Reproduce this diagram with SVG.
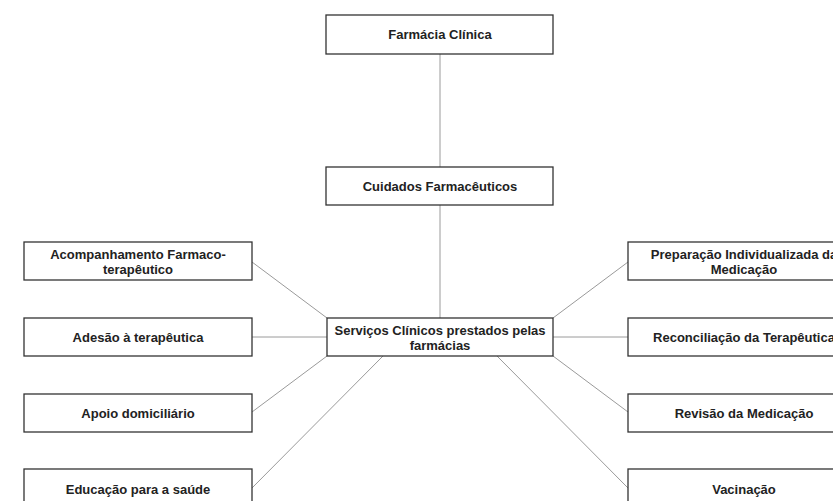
<svg xmlns="http://www.w3.org/2000/svg" width="833" height="501" viewBox="0 0 833 501">
<style>
.box{fill:#fff;stroke:#333;stroke-width:1.3}
.t{font-family:"Liberation Sans",Arial,Helvetica,sans-serif;font-size:13px;font-weight:bold;fill:#222;text-anchor:middle}
.c{stroke:#9a9a9a;stroke-width:1;fill:none}
</style>
<rect width="833" height="501" fill="#fff"/>
<g id="connectors">
<line class="c" x1="440" y1="54" x2="440" y2="167"/>
<line class="c" x1="440" y1="205" x2="440" y2="318"/>
<line class="c" x1="252" y1="262" x2="327" y2="318"/>
<line class="c" x1="252" y1="337" x2="327" y2="337"/>
<line class="c" x1="252" y1="412" x2="327" y2="356"/>
<line class="c" x1="252" y1="488" x2="383" y2="356"/>
<line class="c" x1="628" y1="262" x2="553" y2="318"/>
<line class="c" x1="553" y1="337" x2="628" y2="337"/>
<line class="c" x1="553" y1="356" x2="628" y2="412"/>
<line class="c" x1="497" y1="356" x2="628" y2="488"/>
</g>
<g id="n-farmacia-clinica"><rect class="box" x="326" y="15" width="227" height="39"/><text class="t" x="440" y="39">Farmácia Clínica</text></g>
<g id="n-cuidados"><rect class="box" x="326" y="167" width="227" height="38"/><text class="t" x="440" y="191">Cuidados Farmacêuticos</text></g>
<g id="n-servicos"><rect class="box" x="327" y="318" width="226" height="38"/><text class="t" x="440" y="335">Serviços Clínicos prestados pelas</text><text class="t" x="440" y="350">farmácias</text></g>
<g id="n-acompanhamento"><rect class="box" x="24" y="242" width="228" height="38"/><text class="t" x="138" y="259">Acompanhamento Farmaco-</text><text class="t" x="138" y="274">terapêutico</text></g>
<g id="n-adesao"><rect class="box" x="24" y="318" width="228" height="38"/><text class="t" x="138" y="342">Adesão à terapêutica</text></g>
<g id="n-apoio"><rect class="box" x="24" y="394" width="228" height="38"/><text class="t" x="138" y="418">Apoio domiciliário</text></g>
<g id="n-educacao"><rect class="box" x="24" y="469" width="228" height="38"/><text class="t" x="138" y="494">Educação para a saúde</text></g>
<g id="n-preparacao"><rect class="box" x="628" y="242" width="228" height="38"/><text class="t" x="744" y="259">Preparação Individualizada da</text><text class="t" x="744" y="274">Medicação</text></g>
<g id="n-reconciliacao"><rect class="box" x="628" y="318" width="228" height="38"/><text class="t" x="744" y="342">Reconciliação da Terapêutica</text></g>
<g id="n-revisao"><rect class="box" x="628" y="394" width="228" height="38"/><text class="t" x="744" y="418">Revisão da Medicação</text></g>
<g id="n-vacinacao"><rect class="box" x="628" y="469" width="228" height="38"/><text class="t" x="744" y="494">Vacinação</text></g>
</svg>
